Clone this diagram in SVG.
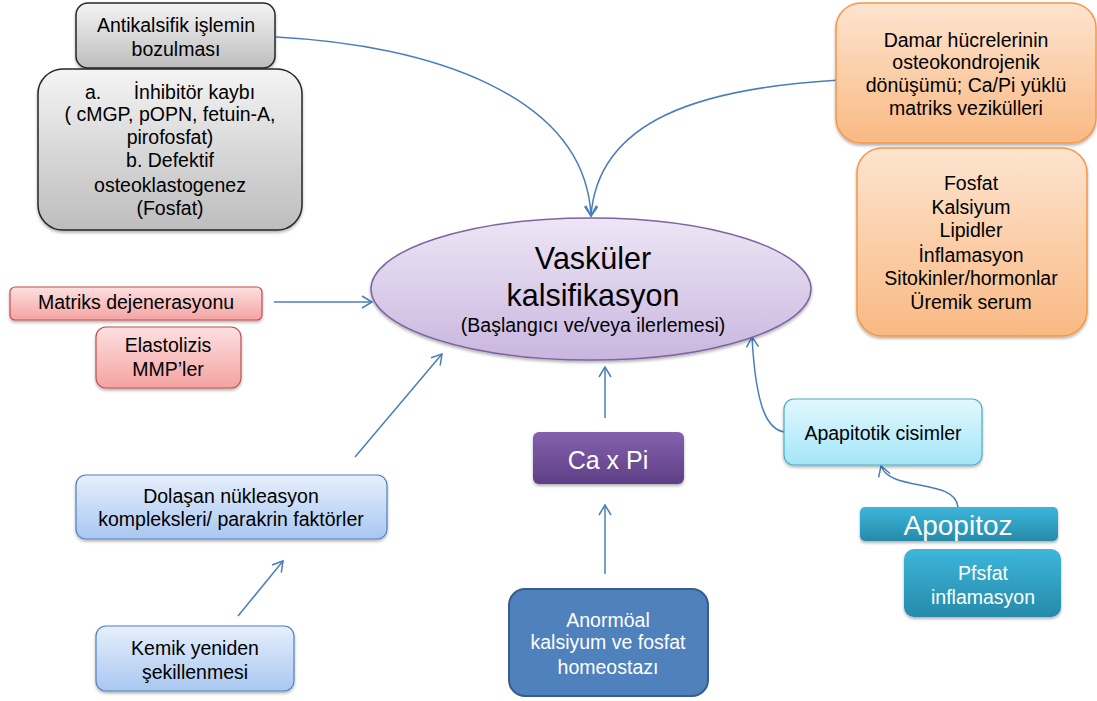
<svg xmlns="http://www.w3.org/2000/svg" width="1097" height="701" viewBox="0 0 1097 701">
<style>
text{font-family:"Liberation Sans",Arial,sans-serif;font-size:19.5px;fill:#000;text-anchor:middle}
.w{fill:#fff}
.c{fill:none;stroke:#4a7ebb;stroke-width:1.5;marker-end:url(#ah)}
</style>
<defs>
<marker id="ah" markerWidth="14" markerHeight="14" refX="11" refY="7" orient="auto" markerUnits="userSpaceOnUse"><path d="M1,1 L11,7 L1,13" fill="none" stroke="#4a7ebb" stroke-width="1.5"/></marker>
<filter id="sh" x="-10%" y="-10%" width="120%" height="130%"><feDropShadow dx="0" dy="2" stdDeviation="1.5" flood-color="#000" flood-opacity="0.3"/></filter>
<linearGradient id="gGray" x1="0" y1="0" x2="0" y2="1"><stop offset="0" stop-color="#f4f4f4"/><stop offset="1" stop-color="#bdbdbd"/></linearGradient>
<linearGradient id="gOr" x1="0" y1="0" x2="0" y2="1"><stop offset="0" stop-color="#fde4cf"/><stop offset="1" stop-color="#f9b983"/></linearGradient>
<linearGradient id="gPu" x1="0" y1="0" x2="0" y2="1"><stop offset="0" stop-color="#ede6f5"/><stop offset="1" stop-color="#c9b6df"/></linearGradient>
<linearGradient id="gRed" x1="0" y1="0" x2="0" y2="1"><stop offset="0" stop-color="#fde0e0"/><stop offset="1" stop-color="#f4a3a2"/></linearGradient>
<linearGradient id="gBl" x1="0" y1="0" x2="0" y2="1"><stop offset="0" stop-color="#e6effc"/><stop offset="1" stop-color="#a9c7f1"/></linearGradient>
<linearGradient id="gCa" x1="0" y1="0" x2="0" y2="1"><stop offset="0" stop-color="#8461ad"/><stop offset="1" stop-color="#5e3f86"/></linearGradient>
<linearGradient id="gCy" x1="0" y1="0" x2="0" y2="1"><stop offset="0" stop-color="#e2f8fe"/><stop offset="1" stop-color="#a3e6f8"/></linearGradient>
<linearGradient id="gTe" x1="0" y1="0" x2="0" y2="1"><stop offset="0" stop-color="#3cb6da"/><stop offset="1" stop-color="#278aaa"/></linearGradient>
</defs>
<rect width="1097" height="701" fill="#fff"/>
<g id="connectors">
<path class="c" d="M276,37 C430,45 585,95 591,216"/>
<path class="c" d="M840,80 C700,88 598,120 591,216"/>
<path class="c" d="M274,302 L372,302"/>
<path class="c" d="M355,457 L442,354"/>
<path class="c" d="M238,616 L283,561"/>
<path class="c" d="M605,418 L605,367"/>
<path class="c" d="M605,574 L605,505"/>
<path class="c" d="M785,432 C768,430 756,410 752,337"/>
<path class="c" d="M958,507 C955,478 890,492 881,466"/>
</g>
<g id="antikalsifik"><rect x="76" y="3" width="199" height="65" rx="12" fill="url(#gGray)" stroke="#262626" stroke-width="1.5" filter="url(#sh)"/>
<text x="176" y="32">Antikalsifik işlemin</text><text x="176" y="56">bozulması</text></g>
<g id="inhibitor"><rect x="38" y="69" width="264" height="161" rx="25" fill="url(#gGray)" stroke="#262626" stroke-width="1.5" filter="url(#sh)"/>
<text x="170" y="99" xml:space="preserve">a.      İnhibitör kaybı</text><text x="170" y="121">( cMGP, pOPN, fetuin-A,</text><text x="170" y="144">pirofosfat)</text><text x="170" y="167">b. Defektif</text><text x="170" y="192">osteoklastogenez</text><text x="170" y="215">(Fosfat)</text></g>
<g id="damar"><rect x="836" y="3" width="260" height="140" rx="25" fill="url(#gOr)" stroke="#f79646" stroke-width="1.5" filter="url(#sh)"/>
<text x="966" y="47">Damar hücrelerinin</text><text x="966" y="69">osteokondrojenik</text><text x="966" y="92">dönüşümü; Ca/Pi yüklü</text><text x="966" y="115">matriks vezikülleri</text></g>
<g id="fosfat"><rect x="857" y="148" width="230" height="188" rx="25" fill="url(#gOr)" stroke="#f79646" stroke-width="1.5" filter="url(#sh)"/>
<text x="971" y="190">Fosfat</text><text x="971" y="214">Kalsiyum</text><text x="971" y="237">Lipidler</text><text x="971" y="262">İnflamasyon</text><text x="971" y="285">Sitokinler/hormonlar</text><text x="971" y="309">Üremik serum</text></g>
<g id="vaskuler"><ellipse cx="591" cy="289" rx="220" ry="71" fill="url(#gPu)" stroke="#8064a2" stroke-width="1.5" filter="url(#sh)"/>
<text x="593" y="269" style="font-size:30.5px">Vasküler</text><text x="593" y="306" style="font-size:30.5px">kalsifikasyon</text><text x="593" y="332">(Başlangıcı ve/veya  ilerlemesi)</text></g>
<g id="matriks"><rect x="10" y="287" width="252" height="33" rx="5" fill="url(#gRed)" stroke="#c0504d" stroke-width="1.2" filter="url(#sh)"/>
<text x="136" y="309">Matriks dejenerasyonu</text></g>
<g id="elastolizis"><rect x="96" y="327" width="145" height="61" rx="10" fill="url(#gRed)" stroke="#c0504d" stroke-width="1.2" filter="url(#sh)"/>
<text x="168" y="352">Elastolizis</text><text x="168" y="376">MMP’ler</text></g>
<g id="dolasan"><rect x="76" y="475" width="311" height="64" rx="10" fill="url(#gBl)" stroke="#4f81bd" stroke-width="1.2" filter="url(#sh)"/>
<text x="231" y="503">Dolaşan nükleasyon</text><text x="231" y="526">kompleksleri/ parakrin faktörler</text></g>
<g id="kemik"><rect x="96" y="626" width="198" height="65" rx="10" fill="url(#gBl)" stroke="#4f81bd" stroke-width="1.2" filter="url(#sh)"/>
<text x="195" y="655">Kemik yeniden</text><text x="195" y="679">şekillenmesi</text></g>
<g id="capi"><rect x="533" y="432" width="151" height="52" rx="6" fill="url(#gCa)" filter="url(#sh)"/>
<text x="608" y="469" class="w" style="font-size:25px">Ca x Pi</text></g>
<g id="anormoal"><rect x="509" y="589" width="199" height="107" rx="16" fill="#4f81bd" stroke="#385d8a" stroke-width="2"/>
<text x="608" y="627" class="w">Anormöal</text><text x="608" y="649" class="w">kalsiyum ve  fosfat</text><text x="608" y="674" class="w">homeostazı</text></g>
<g id="apapitotik"><rect x="784" y="399" width="198" height="66" rx="10" fill="url(#gCy)" stroke="#4bacc6" stroke-width="1.2" filter="url(#sh)"/>
<text x="883" y="440">Apapitotik cisimler</text></g>
<g id="apopitoz"><rect x="860" y="507" width="198" height="34" rx="5" fill="url(#gTe)" filter="url(#sh)"/>
<text x="958" y="535" class="w" style="font-size:28px">Apopitoz</text></g>
<g id="pfsfat"><rect x="904" y="549" width="157" height="68" rx="10" fill="url(#gTe)" filter="url(#sh)"/>
<text x="983" y="580" class="w">Pfsfat</text><text x="983" y="604" class="w">inflamasyon</text></g>
</svg>
